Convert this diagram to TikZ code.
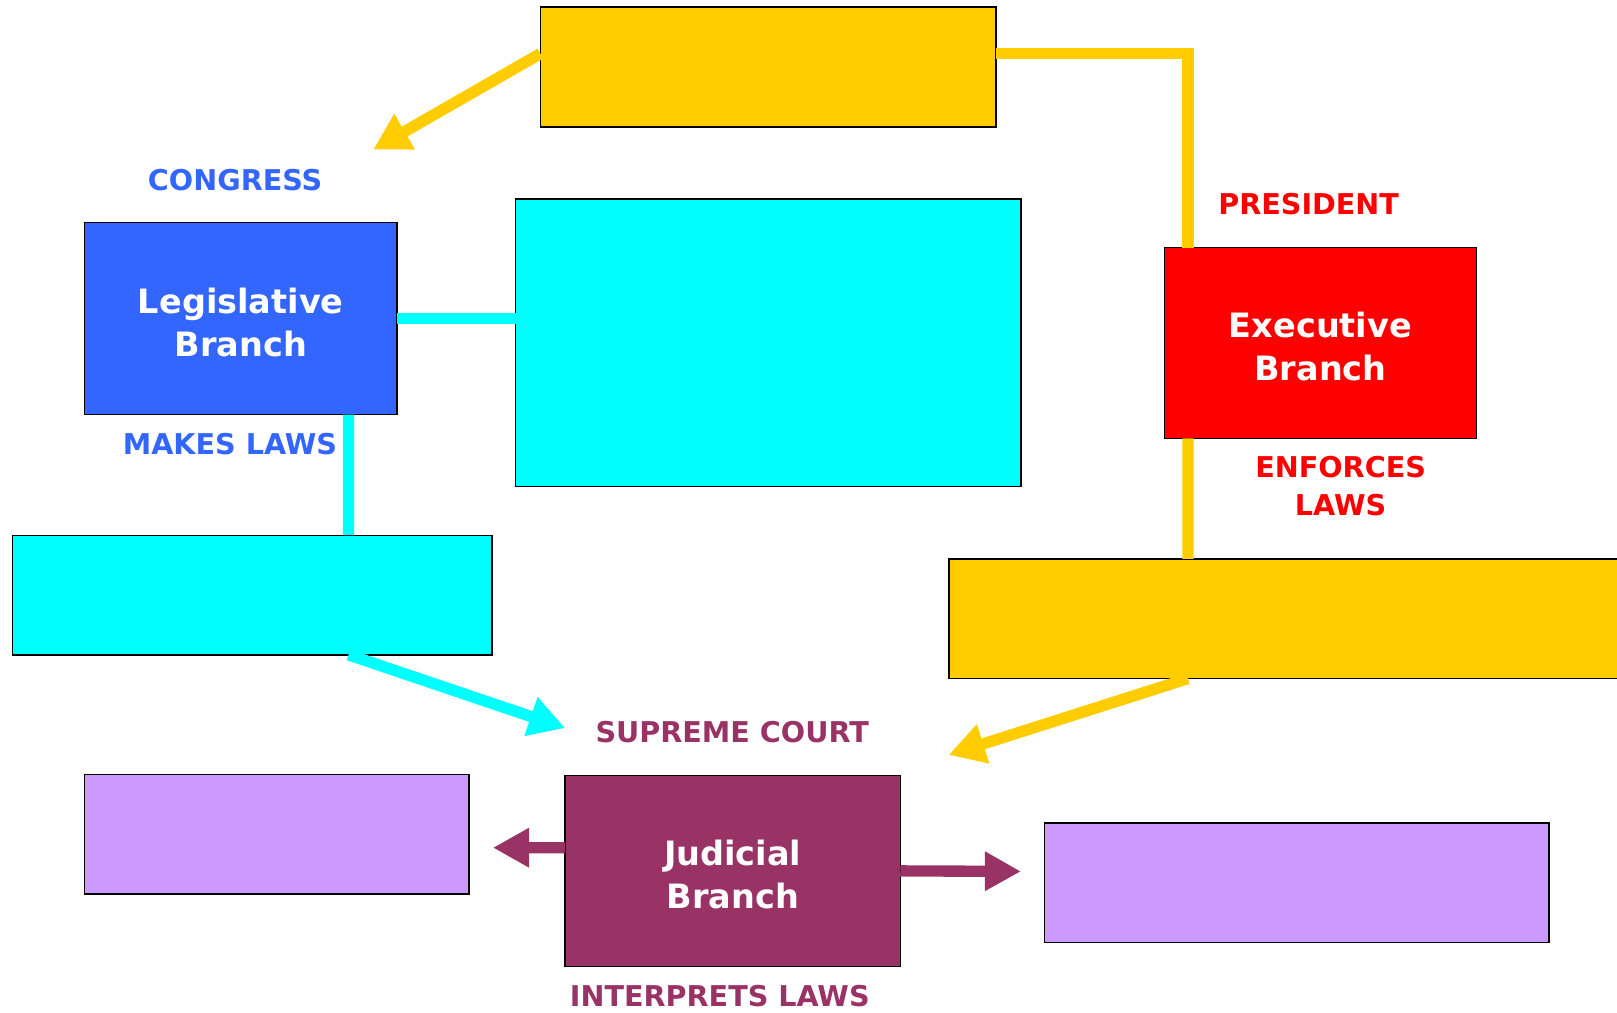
\documentclass[tikz,border=0pt]{standalone}
\usepackage{fontspec}
\setmainfont{DejaVu Sans}
\usepackage{tikz}
\usetikzlibrary{arrows.meta}
\usetikzlibrary{calc}

\definecolor{gold}{HTML}{FFCC00}
\definecolor{aqua}{HTML}{00FFFF}
\definecolor{legblue}{HTML}{3366FF}
\definecolor{exred}{HTML}{FF0000}
\definecolor{plum}{HTML}{993366}
\definecolor{lilac}{HTML}{CC99FF}

\begin{document}
\begin{tikzpicture}[x=0.02cm,y=-0.02cm,
	box/.style={draw=black,line width=0.8pt,inner sep=0pt,outer sep=0pt},
	branch/.style={box,text=white,align=center,text height=42pt,text depth=0pt,font=\bfseries\fontsize{18.5}{24}\selectfont},
	lbl/.style={align=center,font=\bfseries\fontsize{15.8}{21}\selectfont},
	yline/.style={draw=gold,line width=0.22cm},
	cline/.style={draw=aqua,line width=0.22cm},
	jline/.style={draw=plum,line width=0.22cm,-{Triangle[length=0.7cm,width=0.72cm]}},
	tip/.style={-{Triangle[length=0.7cm,width=0.75cm]}}]
	\useasboundingbox (0,0) rectangle (1568,982);
	\clip (0,0) rectangle (1568,982);
	
	% boxes
	\node[box,fill=gold,minimum width=8.84cm,minimum height=2.32cm] (top) at (745,65) {};
	\node[branch,fill=legblue,minimum width=6.06cm,minimum height=3.72cm] (leg) at (233.5,309) {Legislative\\Branch};
	\node[box,fill=aqua,minimum width=9.8cm,minimum height=5.58cm] (law) at (745,332.5) {};
	\node[box,fill=aqua,minimum width=9.3cm,minimum height=2.32cm] (bill) at (244.5,577) {};
	\node[branch,fill=exred,minimum width=6.06cm,minimum height=3.7cm] (exe) at (1280.5,332.5) {Executive\\Branch};
	\node[box,fill=gold,minimum width=13.4cm,minimum height=2.32cm] (veto) at (1255,600) {};
	\node[box,fill=lilac,minimum width=7.46cm,minimum height=2.32cm] (left) at (268.5,809) {};
	\node[branch,fill=plum,minimum width=6.5cm,minimum height=3.7cm] (jud) at (710.5,844.5) {Judicial\\Branch};
	\node[box,fill=lilac,minimum width=9.78cm,minimum height=2.32cm] (right) at (1257.5,856) {};
	
	% labels
	\node[lbl,text=legblue] (congress) at (228,175) {CONGRESS};
	\node[lbl,text=legblue] (makes) at (223,431) {MAKES LAWS};
	\node[lbl,text=exred] (pres) at (1269,198) {PRESIDENT};
	\node[lbl,text=exred] (enf) at (1300,471) {ENFORCES\\LAWS};
	\node[lbl,text=plum] (court) at (710,710) {SUPREME COURT};
	\node[lbl,text=plum] (interp) at (698,966) {INTERPRETS LAWS};
	
	\coordinate (congtip) at (362,145);
	\coordinate (billtip) at (548,706);
	\coordinate (vetotip) at (920,732);
	\coordinate (jl) at (478,822);
	\coordinate (jr) at (990,845);
	
	% connectors
	\draw[yline,tip] ([yshift=0.26cm]top.west) -- (congtip);
	\draw[yline] ([yshift=0.26cm]top.east) -| ([xshift=0.46cm]exe.north west);
	\draw[yline] ([xshift=0.46cm]exe.south west) -- ([xshift=4.64cm]veto.north west);
	\draw[yline,tip] ([xshift=4.64cm]veto.south west) -- (vetotip);
	\draw[cline] (leg.east) -- (leg.east -| law.west);
	\draw[cline] ([xshift=-0.94cm]leg.south east) -- ([xshift=6.52cm]bill.north west);
	\draw[cline,tip] ([xshift=6.52cm]bill.south west) -- (billtip);
	\draw[jline] ([yshift=0.45cm]jud.west) -- (jl);
	\draw[jline] (jud.east) -- (jr);
\end{tikzpicture}
\end{document}
